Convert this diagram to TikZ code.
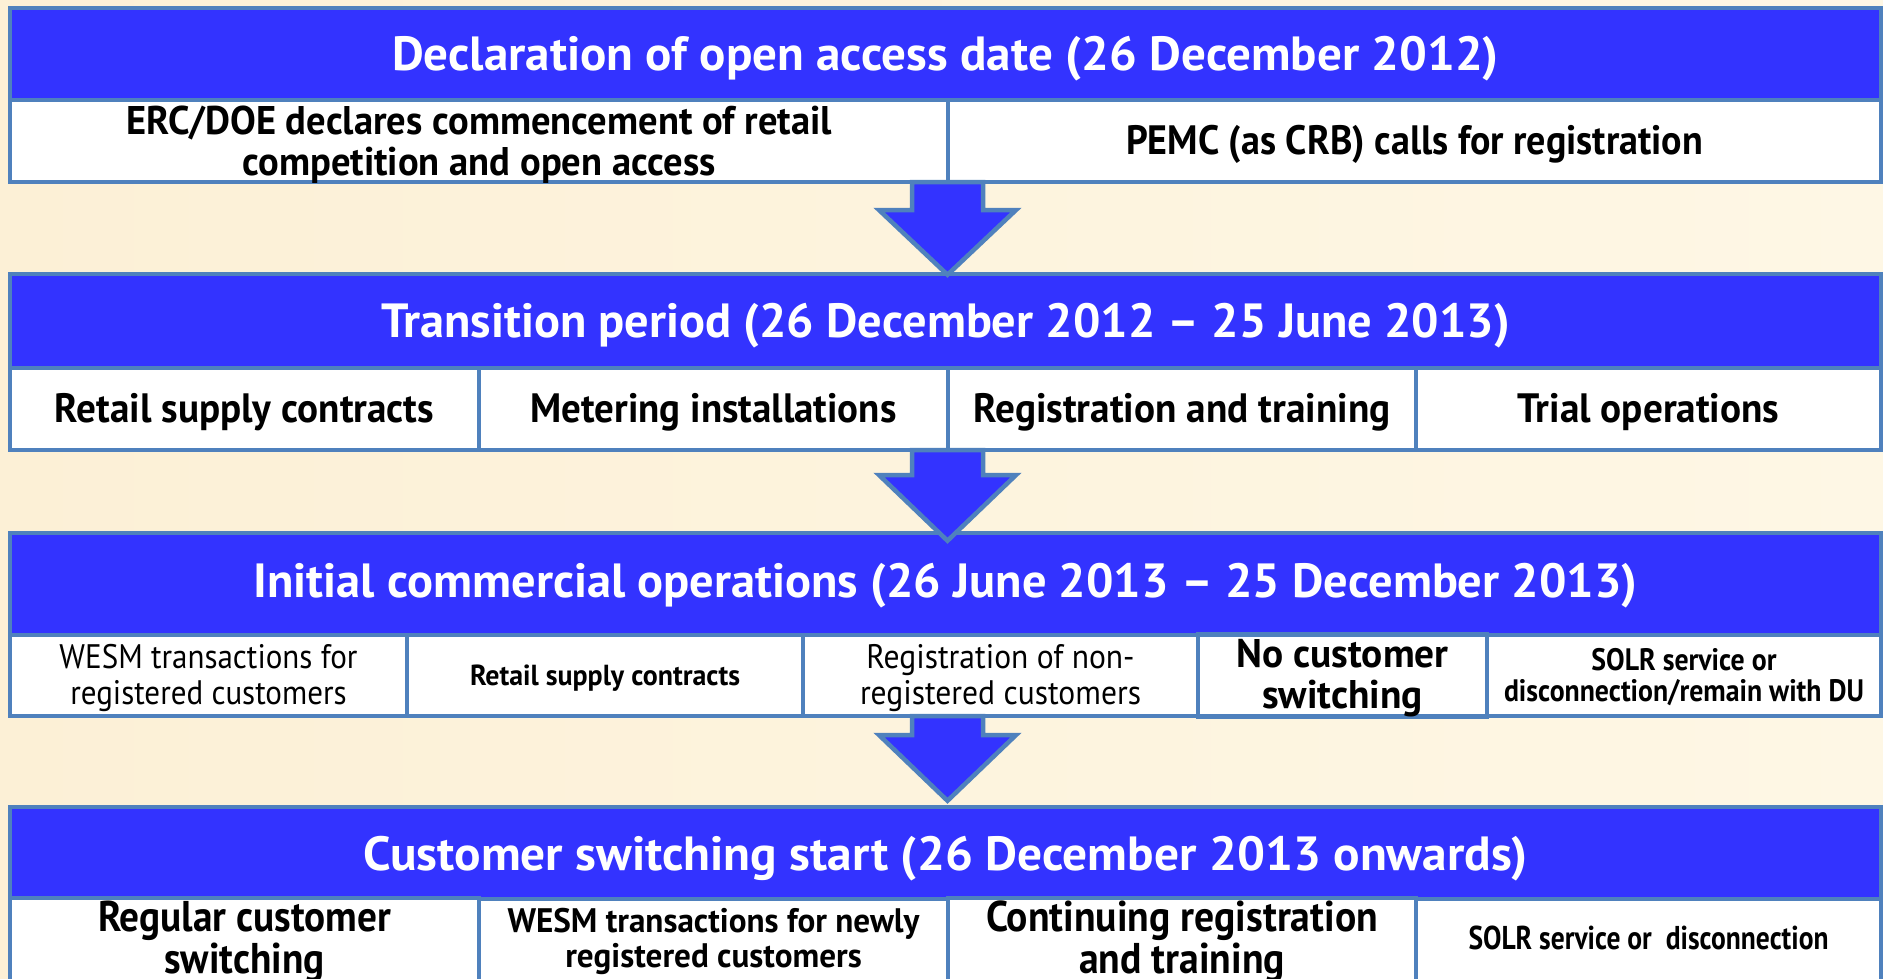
\documentclass[tikz,border=0pt]{standalone}
\usepackage{fontspec}
\setmainfont{PT Sans}
\usepackage{graphicx}
\usetikzlibrary{calc}
\definecolor{hdrblue}{RGB}{51,51,255}
\definecolor{edgeblue}{RGB}{79,129,189}
\definecolor{creamA}{RGB}{252,240,214}
\definecolor{creamB}{RGB}{254,247,229}

\newsavebox\fitbx
\newcommand\fitto[2]{\sbox\fitbx{#2}\edef\fitw{\the\wd\fitbx}\pgfmathsetmacro\fitfac{#1/\fitw}\scalebox{\fitfac}[1]{\usebox\fitbx}}
% [#1 drop], #2 width, #3 size, #4 line skip, #5 font switch, #6 lines
\newcommand\ctext[6][5pt]{\raisebox{-#1}[\height][\depth]{\fitto{#2}{\fontsize{#3}{#4}\selectfont#5\begin{tabular}{@{}c@{}}#6\end{tabular}}}}
\newcommand\flowarrow[4]{\draw[arrowshape] ($(#1)+(-35.5,0)$) -- ++(0,#3) -- ++(-33,0) -- ($(#1 |- #2.north)+(0,#4)$) -- ($(#1)+(68.5,#3)$) -- ++(-33,0) -- ($(#1)+(35.5,0)$) -- cycle;}

\tikzset{
  hdr/.style={draw=edgeblue, line width=4.5pt, fill=hdrblue, text=white, inner sep=0pt, minimum width=1871pt},
  cellbox/.style={draw=edgeblue, line width=4.5pt, fill=white, text=black, inner sep=0pt},
  arrowshape/.style={draw=edgeblue, line width=4.5pt, fill=hdrblue, line join=miter},
}

\begin{document}
\begin{tikzpicture}[x=1pt,y=-1pt]
\useasboundingbox (0,0) rectangle (1883,978);
\shade[left color=creamA, right color=creamB] (0,0) rectangle (1883,978);

% headers
\node[hdr, minimum height=92pt] (h1) at (945.5,54) {\ctext[6pt]{1107}{48}{50}{\bfseries}{Declaration of open access date (26 December 2012)}};
\node[hdr, minimum height=94pt] (h2) at (945.5,321) {\ctext[6pt]{1129}{48}{50}{\bfseries}{Transition period (26 December 2012 -- 25 June 2013)}};
\node[hdr, minimum height=102pt] (h3) at (945.5,584) {\ctext[3pt]{1384}{48}{50}{\bfseries}{Initial commercial operations (26 June 2013 -- 25 December 2013)}};
\node[hdr, minimum height=92pt] (h4) at (945.5,853) {\ctext[7pt]{1165}{48}{50}{\bfseries}{Customer switching start (26 December 2013 onwards)}};

% row 1
\node[cellbox, minimum width=938pt, minimum height=82pt] (r1a) at (479,141) {\ctext[6pt]{706}{40}{41}{\bfseries}{ERC/DOE declares commencement of retail\\competition and open access}};
\node[cellbox, minimum width=933pt, minimum height=82pt] (r1b) at (1414.5,141) {\ctext{577}{41}{42}{\bfseries}{PEMC (as CRB) calls for registration}};

% row 2
\node[cellbox, minimum width=469pt, minimum height=82pt] (r2a) at (244.5,409) {\ctext{379}{41}{42}{\bfseries}{Retail supply contracts}};
\node[cellbox, minimum width=469pt, minimum height=82pt] (r2b) at (713.5,409) {\ctext{366}{41}{42}{\bfseries}{Metering installations}};
\node[cellbox, minimum width=468pt, minimum height=82pt] (r2c) at (1182,409) {\ctext{417}{41}{42}{\bfseries}{Registration and training}};
\node[cellbox, minimum width=465pt, minimum height=82pt] (r2d) at (1648.5,409) {\ctext{262}{41}{42}{\bfseries}{Trial operations}};

% row 3
\node[cellbox, minimum width=397pt, minimum height=81pt] (r3a) at (208.5,675.5) {\ctext[4pt]{298}{34}{36}{}{WESM transactions for\\registered customers}};
\node[cellbox, minimum width=396pt, minimum height=81pt] (r3b) at (605,675.5) {\ctext[4pt]{270}{29}{30}{\bfseries}{Retail supply contracts}};
\node[cellbox, minimum width=395pt, minimum height=81pt] (r3c) at (1000.5,675.5) {\ctext[4pt]{281}{34}{36}{}{Registration of non-\\registered customers}};
\node[cellbox, minimum width=289pt, minimum height=81pt] (r3d) at (1342.5,675.5) {\ctext[4pt]{212}{40}{41}{\bfseries}{No customer\\switching}};
\node[cellbox, minimum width=394pt, minimum height=81pt] (r3e) at (1684,675.5) {\ctext[4pt]{360}{31}{31}{\bfseries}{SOLR service or\\disconnection/remain with DU}};

% row 4
\node[cellbox, minimum width=469pt, minimum height=82pt] (r4a) at (244.5,940) {\ctext[3pt]{293}{43}{38}{\bfseries}{Regular customer\\switching}};
\node[cellbox, minimum width=469pt, minimum height=82pt] (r4b) at (713.5,940) {\ctext[3pt]{412}{34}{35}{\bfseries}{WESM transactions for newly\\registered customers}};
\node[cellbox, minimum width=468pt, minimum height=82pt] (r4c) at (1182,940) {\ctext[3pt]{392}{43}{38}{\bfseries}{Continuing registration\\and training}};
\node[cellbox, minimum width=465pt, minimum height=82pt] (r4d) at (1648.5,940) {\ctext[3pt]{360}{33}{34}{\bfseries}{SOLR service or~ disconnection}};

% arrows
\coordinate (a1) at (947.5,182);
\coordinate (a2) at (947.5,450);
\coordinate (a3) at (947.5,716);
\flowarrow{a1}{h2}{28}{3}
\flowarrow{a2}{h3}{25}{10}
\flowarrow{a3}{h4}{19}{-4}
\end{tikzpicture}
\end{document}
